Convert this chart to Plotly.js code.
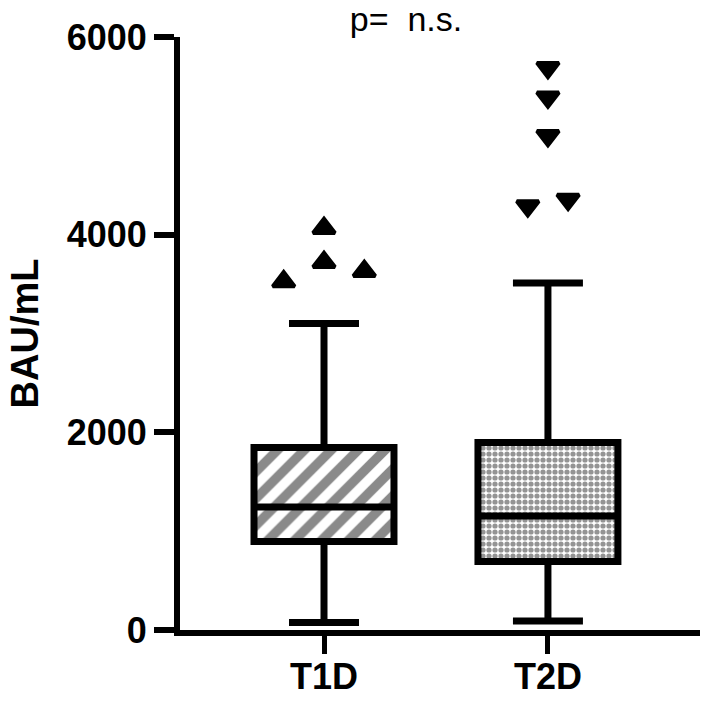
<!DOCTYPE html>
<html>
<head>
<meta charset="utf-8">
<script src="https://cdn.plot.ly/plotly-3.0.1.min.js"></script>
<style>
    html, body { margin: 0; padding: 0; background: #fff; }
    #graph-container { width: 709px; height: 702px; }
</style>
</head>
<body>
<div id="graph-container"></div>
<script>
// values (BAU/mL)
const groups = ['T1D', 'T2D'];
const groupPos = [0, 1];
const q1 = [895, 693];
const median = [1245, 1153];
const q3 = [1847, 1897];
const lowerWhisker = [76, 91];
const upperWhisker = [3101, 3511];

const t1dOutliers = [4065, 3720, 3630, 3525];
const t1dJitter = [0, 0, 0.18, -0.18];
const t2dOutliers = [5690, 5390, 5000, 4290, 4355];
const t2dJitter = [0, 0, 0, -0.09, 0.09];

const yTicks = [0, 2000, 4000, 6000];

const boxWidth = 0.625;
const font = 'Liberation Sans, Arial, sans-serif';

function createBoxGraph() {
    // patterned fill behind the boxes (box traces have no pattern fill)
    const fills = {
        x: groupPos,
        y: q3.map((v, i) => v - q1[i]),
        base: q1,
        type: 'bar',
        width: boxWidth,
        marker: {
            color: '#ffffff',
            line: { width: 0 },
            pattern: {
                shape: ['/', '.'],
                size: [19, 6],
                solidity: [0.5, 0.6],
                fgcolor: ['#8a8a8a', '#949494'],
                bgcolor: '#ffffff',
                fillmode: 'replace'
            }
        },
        hoverinfo: 'skip'
    };

    const boxes = {
        type: 'box',
        x: groupPos,
        q1: q1,
        median: median,
        q3: q3,
        lowerfence: lowerWhisker,
        upperfence: upperWhisker,
        width: boxWidth,
        whiskerwidth: 0.5,
        boxpoints: false,
        fillcolor: 'rgba(0,0,0,0)',
        line: { color: '#000', width: 7 }
    };

    const t1dPoints = {
        type: 'scatter',
        mode: 'markers',
        x: t1dJitter.map(d => groupPos[0] + d),
        y: t1dOutliers,
        marker: { symbol: 'triangle-up', size: 19, color: '#000', line: { color: '#000', width: 4 } }
    };

    const t2dPoints = {
        type: 'scatter',
        mode: 'markers',
        x: t2dJitter.map(d => groupPos[1] + d),
        y: t2dOutliers,
        marker: { symbol: 'triangle-down', size: 19, color: '#000', line: { color: '#000', width: 4 } }
    };

    const layout = {
        width: 709,
        height: 702,
        margin: { l: 180, r: 9, t: 37, b: 72 },
        paper_bgcolor: '#fff',
        plot_bgcolor: '#fff',
        showlegend: false,
        font: { family: font, color: '#000' },
        title: {
            text: 'p=\u00a0 n.s.',
            font: { family: font, size: 34, color: '#000' },
            x: 406 / 709,
            xanchor: 'center',
            xref: 'container',
            y: 1 - 7 / 702,
            yanchor: 'top',
            yref: 'container'
        },
        xaxis: {
            range: [-0.643, 1.679],
            tickvals: groupPos,
            ticktext: groups,
            showgrid: false,
            zeroline: false,
            showline: true,
            linecolor: '#000',
            linewidth: 6,
            ticks: 'outside',
            ticklen: 18,
            tickwidth: 5,
            tickcolor: '#000',
            ticklabelstandoff: -8,
            tickfont: { family: font, size: 36, weight: 'bold', color: '#000' }
        },
        yaxis: {
            range: [0, 6000],
            tickvals: yTicks,
            showgrid: false,
            zeroline: false,
            showline: true,
            linecolor: '#000',
            linewidth: 6,
            ticks: 'outside',
            ticklen: 20,
            tickwidth: 6,
            tickcolor: '#000',
            tickfont: { family: font, size: 36, weight: 'bold', color: '#000' },
            title: {
                text: 'BAU/mL',
                standoff: 18,
                font: { family: font, size: 38, weight: 'bold', color: '#000' }
            }
        }
    };

    Plotly.newPlot('graph-container', [fills, boxes, t1dPoints, t2dPoints], layout, { staticPlot: true });
}

window.addEventListener('DOMContentLoaded', () => {
    createBoxGraph();
});
</script>
</body>
</html>
